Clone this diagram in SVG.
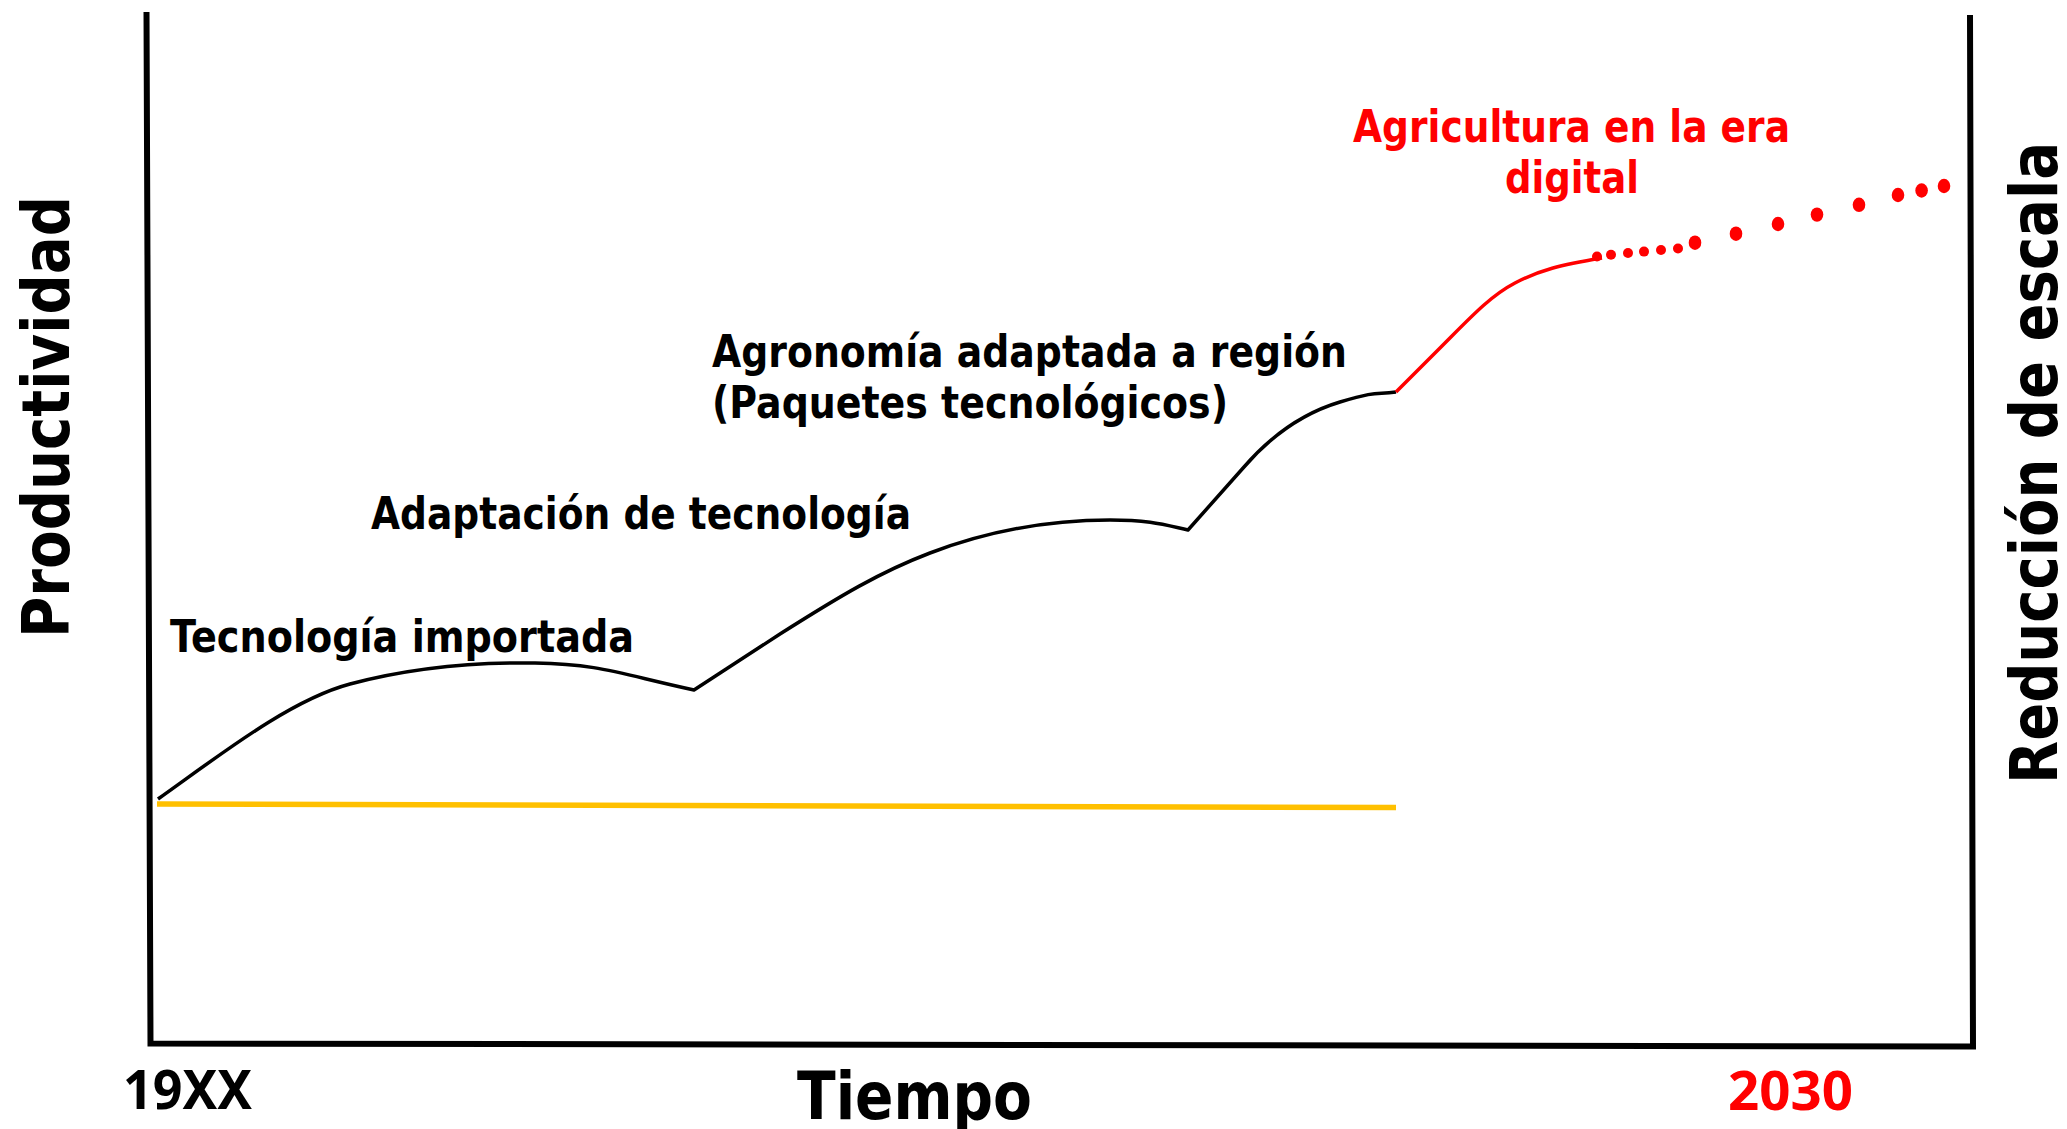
<svg xmlns="http://www.w3.org/2000/svg" width="2067" height="1129" viewBox="0 0 2067 1129">
<style>
  .lbl { font-family: "DejaVu Sans", Verdana, sans-serif; font-weight: bold; font-size: 45px; fill: #000; }
  .ax { font-family: "DejaVu Sans", Verdana, sans-serif; font-weight: bold; font-size: 66px; fill: #000; }
  .yr { font-family: "Noto Sans", "Liberation Sans", sans-serif; font-weight: bold; font-size: 54px; }
  .red { fill: #FF0000; }
  .axis { fill: none; stroke: #000; stroke-width: 6; stroke-linejoin: miter; }
  .curve { fill: none; stroke: #000; stroke-width: 3.5; stroke-linejoin: round; }
  .rcurve { fill: none; stroke: #FF0000; stroke-width: 3.5; stroke-linejoin: round; }
  .base { fill: none; stroke: #FFC000; stroke-width: 5.5; }
  .sd { fill: #FF0000; }
  .bd { fill: #FF0000; }
</style>
<rect x="0" y="0" width="2067" height="1129" fill="#FFFFFF"/>

<g id="axes">
  <path class="axis" d="M146.5,12 L150.5,1043.5 L1973,1046.5 L1970,15"/>
</g>

<g id="connectors">
  <line class="base" x1="157" y1="804" x2="1396" y2="807.5"/>
  <path class="curve" d="M158,799 C220,755 290,700 350,684 S470,662 535,663 S620,674 694,690 L780,634 C840,596 880,572 930,553 S1040,520 1110,520 C1150,520 1165,525 1188,530 L1244,467 C1270,437 1300,414 1340,402 S1375,395 1396,392"/>
  <path class="rcurve" d="M1396,392 L1440,348 C1470,318 1490,296 1515,283 S1560,265 1602,258"/>
  <g id="dots">
    <circle class="sd" cx="1597" cy="256.5" r="5"/>
    <circle class="sd" cx="1611" cy="254.7" r="5"/>
    <circle class="sd" cx="1628" cy="253" r="5"/>
    <circle class="sd" cx="1644" cy="251.6" r="5"/>
    <circle class="sd" cx="1661" cy="250" r="5"/>
    <circle class="sd" cx="1678" cy="248.5" r="5"/>
    <ellipse class="bd" cx="1695" cy="242.7" rx="6.3" ry="7.2"/>
    <ellipse class="bd" cx="1736" cy="233.7" rx="6.3" ry="7.2"/>
    <ellipse class="bd" cx="1778" cy="224" rx="6.3" ry="7.2"/>
    <ellipse class="bd" cx="1817" cy="214.6" rx="6.3" ry="7.2"/>
    <ellipse class="bd" cx="1859" cy="204.8" rx="6.3" ry="7.2"/>
    <ellipse class="bd" cx="1898" cy="195" rx="6.3" ry="7.2"/>
    <ellipse class="bd" cx="1921.6" cy="190.5" rx="6.3" ry="7.2"/>
    <ellipse class="bd" cx="1944" cy="186" rx="6.3" ry="7.2"/>
  </g>
</g>

<g id="label-tecnologia-importada">
  <text class="lbl" x="170" y="652" textLength="464" lengthAdjust="spacingAndGlyphs">Tecnología importada</text>
</g>
<g id="label-adaptacion">
  <text class="lbl" x="371" y="529" textLength="540" lengthAdjust="spacingAndGlyphs">Adaptación de tecnología</text>
</g>
<g id="label-agronomia">
  <text class="lbl" x="712" y="367" textLength="635" lengthAdjust="spacingAndGlyphs">Agronomía adaptada a región</text>
  <text class="lbl" x="712" y="418" textLength="516" lengthAdjust="spacingAndGlyphs">(Paquetes tecnológicos)</text>
</g>
<g id="label-agricultura-digital">
  <text class="lbl red" x="1353" y="142" textLength="437" lengthAdjust="spacingAndGlyphs">Agricultura en la era</text>
  <text class="lbl red" x="1505" y="193" textLength="134" lengthAdjust="spacingAndGlyphs">digital</text>
</g>

<g id="axis-productividad">
  <text class="ax" transform="translate(69,638) rotate(-90)" textLength="442" lengthAdjust="spacingAndGlyphs">Productividad</text>
</g>
<g id="axis-reduccion">
  <text class="ax" transform="translate(2057,784) rotate(-90)" textLength="642" lengthAdjust="spacingAndGlyphs">Reducción de escala</text>
</g>
<g id="axis-tiempo">
  <text class="ax" x="797" y="1119" textLength="235" lengthAdjust="spacingAndGlyphs">Tiempo</text>
</g>
<g id="tick-19xx">
  <text class="yr" x="123" y="1109" textLength="129" lengthAdjust="spacingAndGlyphs">19XX</text>
</g>
<g id="tick-2030">
  <text class="yr red" x="1728" y="1110" textLength="125" lengthAdjust="spacingAndGlyphs">2030</text>
</g>
</svg>
